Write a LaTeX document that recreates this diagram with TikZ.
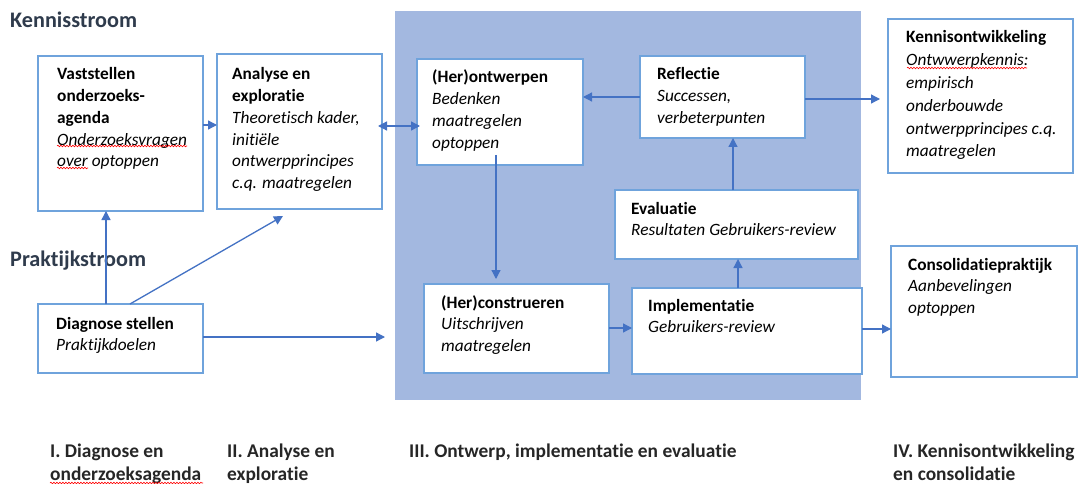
\documentclass[tikz,border=0pt]{standalone}
\usepackage{fontspec}
\setmainfont[Ligatures=NoCommon]{Carlito}
\usetikzlibrary{arrows.meta,decorations.pathmorphing}
\definecolor{bgblue}{HTML}{A3B8E0}
\definecolor{arr}{HTML}{4472C4}
\definecolor{bord}{HTML}{6FA3DC}
\definecolor{hdr}{HTML}{2F3B4C}
\newcommand{\bxt}[1]{\parbox[t]{260pt}{\raggedright\fontsize{17.3}{21.7}\selectfont #1}}
\newcommand{\phs}[1]{\parbox[t]{400pt}{\raggedright\fontsize{19.4}{23}\selectfont\bfseries #1}}
\begin{document}
\begin{tikzpicture}[x=1pt,y=-1pt,
 box/.style={draw=bord, line width=1.1pt, fill=white, anchor=north west, inner sep=0, outer sep=0},
 txt/.style={anchor=base west, inner sep=0, text=black},
 conn/.style={draw=arr, line width=1.3pt, -{Triangle[length=9pt,width=9pt]}},
 hdrs/.style={font=\fontsize{22.2}{26}\selectfont\bfseries, text=hdr, anchor=base west, inner sep=0},
 phase/.style={text=black!85, anchor=base west, inner sep=0},
 spell/.style={draw=red, line width=0.6pt, decorate, decoration={snake, amplitude=0.8pt, segment length=3pt}}]

\useasboundingbox (0,0) rectangle (1079,484);
\fill[white] (0,0) rectangle (1079,484);

\node[fill=bgblue, anchor=north west, minimum width=466pt, minimum height=389pt, inner sep=0] (area) at (395,11) {};

\node[hdrs] (hk) at (10,28) {Kennisstroom};
\node[hdrs] (hp) at (10,266) {Praktijkstroom};

% boxes
\node[box, minimum width=165pt, minimum height=155pt] (b1) at (38,56) {};
\node[box, minimum width=165pt, minimum height=155pt] (b2) at (217,54) {};
\node[box, minimum width=166pt, minimum height=106pt] (her) at (417,59) {};
\node[box, minimum width=165pt, minimum height=82pt] (refl) at (640,56) {};
\node[box, minimum width=243pt, minimum height=69pt] (eval) at (615,190) {};
\node[box, minimum width=185pt, minimum height=89pt] (hcon) at (424,284) {};
\node[box, minimum width=230pt, minimum height=86pt] (impl) at (632,288) {};
\node[box, minimum width=185pt, minimum height=154pt] (kenn) at (888,19) {};
\node[box, minimum width=186pt, minimum height=131pt] (cons) at (891,246) {};
\node[box, minimum width=165pt, minimum height=69pt] (diag) at (38,304) {};

% texts
\node[txt] (t1) at ([xshift=19pt,yshift=-24pt]b1.north west) {\bxt{\textbf{Vaststellen}\\\textbf{onderzoeks-}\\\textbf{agenda}\\\textit{Onderzoeksvragen}\\\textit{over optoppen}}};
\node[txt] (t2) at ([xshift=15pt,yshift=-26pt]b2.north west) {\bxt{\textbf{Analyse en}\\\textbf{exploratie}\\\textit{Theoretisch kader,}\\\textit{initiële}\\\textit{ontwerpprincipes}\\\textit{c.q. maatregelen}}};
\node[txt] (t3) at ([xshift=15pt,yshift=-24pt]her.north west) {\bxt{\textbf{(Her)ontwerpen}\\\textit{Bedenken}\\\textit{maatregelen}\\\textit{optoppen}}};
\node[txt] (t4) at ([xshift=17pt,yshift=-24pt]refl.north west) {\bxt{\textbf{Reflectie}\\\textit{Successen,}\\\textit{verbeterpunten}}};
\node[txt] (t5) at ([xshift=16pt,yshift=-24pt]eval.north west) {\bxt{\textbf{Evaluatie}\\\textit{Resultaten Gebruikers-review}}};
\node[txt] (t6) at ([xshift=17pt,yshift=-24pt]hcon.north west) {\bxt{\textbf{(Her)construeren}\\\textit{Uitschrijven}\\\textit{maatregelen}}};
\node[txt] (t7) at ([xshift=16pt,yshift=-23pt]impl.north west) {\bxt{\textbf{Implementatie}\\\textit{Gebruikers-review}}};
\node[txt] (t8) at ([xshift=18pt,yshift=-24pt]kenn.north west) {\parbox[t]{260pt}{\raggedright\fontsize{17.3}{22.8}\selectfont\textbf{Kennisontwikkeling}\\\textit{Ontwwerpkennis:}\\\textit{empirisch}\\\textit{onderbouwde}\\\textit{ontwerpprincipes c.q.}\\\textit{maatregelen}}};
\node[txt] (t9) at ([xshift=17pt,yshift=-24pt]cons.north west) {\bxt{\textbf{Consolidatiepraktijk}\\\textit{Aanbevelingen}\\\textit{optoppen}}};
\node[txt] (t10) at ([xshift=18pt,yshift=-25pt]diag.north west) {\bxt{\textbf{Diagnose stellen}\\\textit{Praktijkdoelen}}};

% phase labels
\node[phase] (p1) at (50,457) {\phs{I. Diagnose en\\onderzoeksagenda}};
\node[phase] (p2) at (227,457) {\phs{II. Analyse en\\exploratie}};
\node[phase] (p3) at (409,457) {\phs{III. Ontwerp, implementatie en evaluatie}};
\node[phase] (p4) at (893,457) {\phs{IV. Kennisontwikkeling\\en consolidatie}};

% free ends
\coordinate (d2end) at (283,216);
\coordinate (d3end) at (385,337);
\coordinate (herstart) at (496,155);

% connectors
\draw[conn] (b1.east |- 0,125) -- (b2.west |- 0,125);
\draw[conn] (diag.north -| 106,0) -- (b1.south -| 106,0);
\draw[conn] (diag.north -| 130,0) -- (d2end);
\draw[conn] (diag.east |- 0,337) -- (d3end);
\draw[conn, {Triangle[length=9pt,width=9pt]}-{Triangle[length=9pt,width=9pt]}, shorten <=-4pt, shorten >=-3pt] (b2.east |- 0,126) -- (her.west |- 0,126);
\draw[conn] (refl.west |- 0,97) -- (her.east |- 0,97);
\draw[conn, shorten >=8pt] (refl.east |- 0,99) -- (kenn.west |- 0,99);
\draw[conn, shorten >=5pt] (herstart) -- (hcon.north -| herstart);
\draw[conn] (hcon.east |- 0,328) -- (impl.west |- 0,328);
\draw[conn] (impl.north -| 738,0) -- (eval.south -| 738,0);
\draw[conn] (eval.north -| 733,0) -- (refl.south -| 733,0);
\draw[conn] (impl.east |- 0,329) -- (cons.west |- 0,329);

% spell-check underlines
\draw[spell] (57,146) -- (187,146);
\draw[spell] (57,168) -- (88,168);
\draw[spell] (907,68) -- (1027,68);
\draw[spell] (50,483) -- (203,483);
\end{tikzpicture}
\end{document}
